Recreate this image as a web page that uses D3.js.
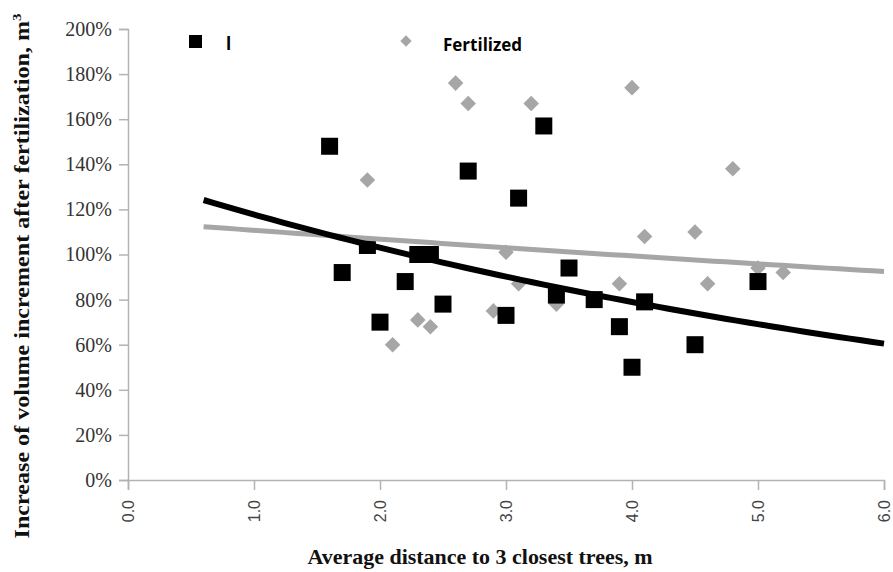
<html>
  <head>
    <script src="https://d3js.org/d3.v7.min.js"></script>
  </head>
  <style type="text/css">
    body { margin: 0; background: #fff; }
    .tick-y { font-family: "Liberation Serif", serif; font-size: 20px; fill: #333; }
    .tick-x { font-family: "Liberation Sans", Arial, sans-serif; font-size: 16px; fill: #444; }
    .axis-title { font-family: "Liberation Serif", serif; font-weight: bold; font-size: 21px; fill: #111; }
    .legend-text { font-family: "Open Sans", sans-serif; font-weight: bold; font-size: 17px; fill: #000; }
  </style>
  <body>
    <div id="chart"></div>
  </body>
  <script type="text/javascript">
    // control group (legend label reads just "l" in the source)
    var controlX = [1.6, 1.7, 1.9, 2.0, 2.2, 2.3, 2.4, 2.5, 2.7, 3.0, 3.1, 3.3, 3.4, 3.5, 3.7, 3.9, 4.0, 4.1, 4.5, 5.0];
    var controlY = [148, 92, 104, 70, 88, 100, 100, 78, 137, 73, 125, 157, 82, 94, 80, 68, 50, 79, 60, 88];

    var fertX = [1.9, 2.1, 2.3, 2.4, 2.6, 2.7, 2.9, 3.0, 3.1, 3.2, 3.4, 3.9, 4.0, 4.1, 4.5, 4.6, 4.8, 5.0, 5.2];
    var fertY = [133, 60, 71, 68, 176, 167, 75, 101, 87, 167, 78, 87, 174, 108, 110, 87, 138, 94, 92];

    // exponential trend lines y = a * exp(b * x)
    var trendRange = [0.6, 6.0];
    var controlTrend = {a: 134.5, b: -0.1332};
    var fertTrend = {a: 114.8, b: -0.0361};

    var xTicks = [0, 1, 2, 3, 4, 5, 6];
    var yTicks = [0, 20, 40, 60, 80, 100, 120, 140, 160, 180, 200];
    var legendLabels = ["l", "Fertilized"];

    var width = 893;
    var height = 572;

    var x = d3.scaleLinear().domain([0, 6]).range([128, 884]);
    var y = d3.scaleLinear().domain([0, 200]).range([480, 29]);

    var svg = d3.select("#chart").append("svg")
      .attr("width", width)
      .attr("height", height);

    /* Axes */
    var yAxis = svg.append("g")
      .attr("transform", "translate(128,0)")
      .call(d3.axisLeft(y).tickValues(yTicks).tickSize(9).tickPadding(7).tickFormat(d => d + "%"));
    yAxis.select(".domain").attr("stroke", "#b3b3b3").attr("stroke-width", 1.5);
    yAxis.selectAll(".tick line").attr("stroke", "#b3b3b3").attr("stroke-width", 1.5);
    yAxis.selectAll(".tick text").attr("class", "tick-y").attr("font-size", null).attr("font-family", null).attr("fill", null);

    var xAxis = svg.append("g")
      .attr("transform", "translate(0,480)")
      .call(d3.axisBottom(x).tickValues(xTicks).tickSize(10).tickFormat(d3.format(".1f")));
    xAxis.select(".domain").attr("stroke", "#b3b3b3").attr("stroke-width", 1.5);
    xAxis.selectAll(".tick line").attr("stroke", "#b3b3b3").attr("stroke-width", 1.5);
    xAxis.selectAll(".tick text")
      .attr("class", "tick-x").attr("font-size", null).attr("font-family", null).attr("fill", null)
      .attr("transform", "rotate(-90)")
      .attr("text-anchor", "end")
      .attr("x", -20)
      .attr("y", 0)
      .attr("dy", "0.35em");

    /* Points */
    var fert = fertX.map((d, i) => ({x: d, y: fertY[i]}));
    var control = controlX.map((d, i) => ({x: d, y: controlY[i]}));

    svg.append("g").selectAll("rect")
      .data(fert).enter()
      .append("rect")
      .attr("width", 11).attr("height", 11)
      .attr("x", -5.5).attr("y", -5.5)
      .attr("transform", d => `translate(${x(d.x)},${y(d.y)}) rotate(45)`)
      .attr("fill", "#a6a6a6");

    svg.append("g").selectAll("rect")
      .data(control).enter()
      .append("rect")
      .attr("x", d => x(d.x) - 8.5)
      .attr("y", d => y(d.y) - 8.5)
      .attr("width", 17).attr("height", 17)
      .attr("fill", "#000");

    /* Trend lines */
    function trendPoints(t) {
      var pts = [];
      for (var i = 0; i <= 60; i++) {
        var xv = trendRange[0] + (trendRange[1] - trendRange[0]) * i / 60;
        pts.push([xv, t.a * Math.exp(t.b * xv)]);
      }
      return pts;
    }
    var line = d3.line().x(d => x(d[0])).y(d => y(d[1]));

    svg.append("path")
      .attr("d", line(trendPoints(fertTrend)))
      .attr("fill", "none")
      .attr("stroke", "#a6a6a6")
      .attr("stroke-width", 5);

    svg.append("path")
      .attr("d", line(trendPoints(controlTrend)))
      .attr("fill", "none")
      .attr("stroke", "#000")
      .attr("stroke-width", 6);

    /* Legend */
    svg.append("rect")
      .attr("x", 189).attr("y", 35).attr("width", 13).attr("height", 13)
      .attr("fill", "#000");
    svg.append("text").attr("class", "legend-text")
      .attr("x", 226).attr("y", 50).text(legendLabels[0]);

    svg.append("rect")
      .attr("width", 8).attr("height", 8).attr("x", -4).attr("y", -4)
      .attr("transform", "translate(406,41) rotate(45)")
      .attr("fill", "#a6a6a6");
    svg.append("text").attr("class", "legend-text")
      .attr("x", 443).attr("y", 51).text(legendLabels[1]);

    /* Axis titles */
    svg.append("text").attr("class", "axis-title")
      .attr("text-anchor", "middle")
      .attr("transform", "translate(29,276) rotate(-90)")
      .attr("textLength", 525)
      .attr("lengthAdjust", "spacingAndGlyphs")
      .html("Increase of volume increment  after fertilization, m<tspan dy='-8' font-size='13'>3</tspan>");

    svg.append("text").attr("class", "axis-title")
      .attr("text-anchor", "middle")
      .attr("x", 480).attr("y", 564)
      .attr("textLength", 345)
      .attr("lengthAdjust", "spacingAndGlyphs")
      .text("Average distance to 3 closest trees, m");
  </script>
</html>
